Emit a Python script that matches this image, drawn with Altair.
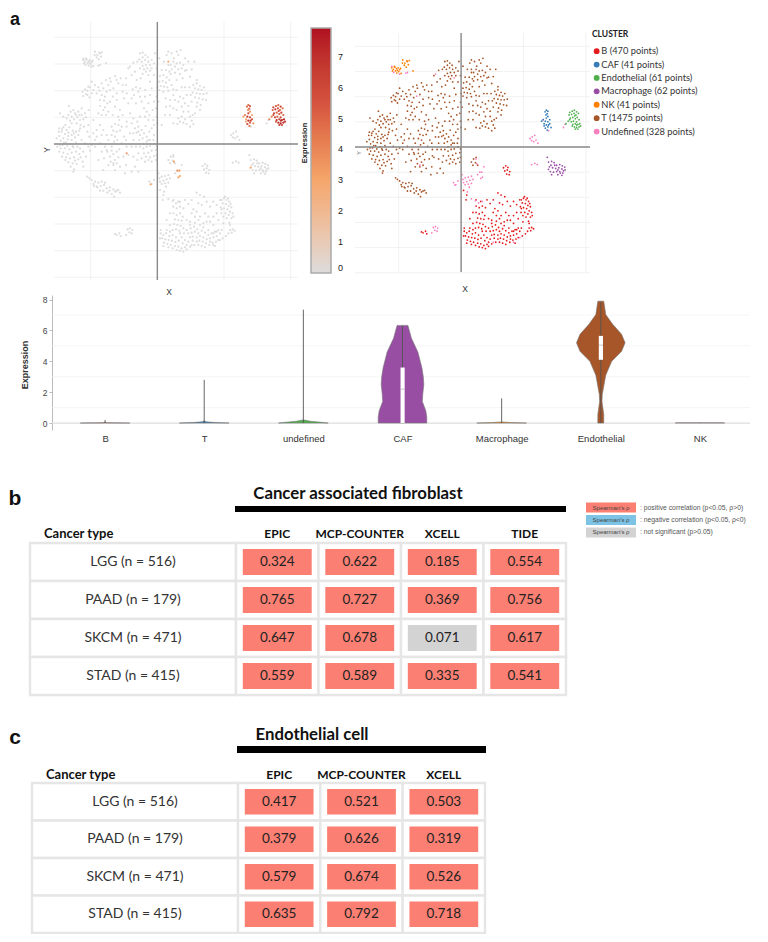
import altair as alt
import pandas as pd

# ---- t-SNE coordinates (shared by both maps) ----
T = [(420,160),(428,158),(436,165),(443,172),(428,172),(418,178),(412,185),(425,185),(435,180),(445,185),(455,180),(462,190),(450,195),(438,195),(428,198),(420,205),(432,208),(442,205),(455,205),(438,215),(428,222),(445,225),(422,235),(400,188),(385,205),(378,235),
(505,155),(515,160),(530,155),(542,150),(535,165),(500,165),(492,185),(505,195),(512,195),(520,185),(530,190),(540,188),(550,195),(525,200),(515,208),(535,208),(545,205),(555,212),(525,218),(540,222),(512,222),(560,210),(575,208),(583,185),(565,185),(548,235),(530,240),
(480,228),(490,225),(500,232),(478,245),(488,243),(498,248),(508,240),(482,258),(492,260),(502,262),(515,255),(478,270),(490,275),(505,272),(520,268),(530,270),(472,262),(470,290),(475,305),(497,295),(510,300),
(580,255),(590,250),(600,258),(585,265),(595,268),(605,270),(612,262),(578,278),(590,280),(600,282),(610,282),(585,292),(597,295),(608,298),(592,308),(602,315),(575,305),(560,285),(550,295),(540,290),(535,305),(555,310),(565,318),(545,320),(530,330),
(535,355),(545,350),(555,358),(540,365),(550,368),(560,372),(532,372),(570,350),(578,345),(585,340),(575,362),(580,372),(570,380),(510,345),(520,325),(498,320),
(248,275),(255,268),(262,272),(270,262),(275,280),(262,285),(250,288),(285,255),(295,262),(305,250),(318,240),(330,235),(345,228),(325,255),(340,265),(355,250),(310,265),(275,245),
(305,285),(315,290),(300,300),(312,302),(322,310),(300,318),(310,330),(305,345),(318,345),(295,340),(338,290),(350,300),(345,320),(360,330),(368,275),(380,280),(372,295),(385,310),(398,268),(408,262),(415,275),(402,285),(420,290),(390,340),
(432,325),(440,335),(448,345),(458,330),(468,325),(435,350),(445,360),(460,360),(470,350),(462,375),(472,370),(420,350),(400,355),(380,380),
(215,350),(225,340),(235,335),(245,345),(255,340),(222,358),(232,352),(240,360),(250,358),(230,370),(242,375),(215,370),(207,318),(180,340),(265,375),(280,360),
(178,385),(190,382),(200,390),(185,395),(195,402),(205,398),(215,405),(178,408),(190,415),(203,418),(215,420),(225,412),(235,405),(198,428),(212,432),(228,428),
(182,445),(195,445),(208,448),(220,442),(190,458),(203,462),(215,458),(228,455),(238,462),(210,475),(222,472),(235,478),(205,487),(218,490),(230,492),(222,508),(240,445),(250,500),(265,440),(275,435),(285,440),(270,452),(290,410),(280,400),(262,395),
(335,380),(345,372),(355,375),(365,380),(340,392),(350,395),(360,392),(335,405),(345,410),(352,420),(342,425),(310,390),(320,405),(372,410),
(405,385),(415,380),(425,390),(410,398),(420,405),(432,400),(440,410),(428,415),(445,420),(418,420),(395,370),(448,395),(462,405),
(430,445),(440,440),(450,438),(462,432),(432,460),(445,458),(455,452),(468,450),(438,470),(450,472),(462,468),(470,465),(455,485),(468,480),(440,425),(470,438),
(330,470),(340,462),(350,455),(358,448),(332,485),(345,480),(355,472),(340,495),(350,490),(325,495),(305,455),(315,440),(295,480),(380,440),(395,440),(405,500),(415,515),(412,480),(400,470),(378,495),(370,470),
(275,540),(285,545),(295,548),(305,545),(282,558),(292,562),(302,558),(312,555),(320,565),(330,562),(340,568),(350,572),(310,572),(322,578),(335,582),(342,590),(355,570),(262,530),
(505,480),(512,470),(520,465),(518,482),(525,490),(510,490)]
T_MORE = [(176,395),(186,388),(196,375),(208,382),(218,392),(228,395),(238,392),(170,415),(182,422),(192,428),(205,408),(222,400),(180,435),(172,440),(188,435),(202,438),(218,438),(232,440),(186,470),(198,472),(178,455),(196,480),(212,500),(225,482),(242,472),(250,455),(258,470),(248,485),(220,515),(205,345),(212,335),(220,330),(200,355),(210,362),(238,345),(228,345),(258,352),(266,330),(190,350),(245,325),(240,385),(252,380),(268,410),(285,420),(300,430),(255,430),(245,420),
(265,260),(258,282),(268,292),(280,270),(290,280),(298,272),(320,275),(332,245),(350,240),(362,235),(368,255),(378,255),(350,280),(330,305),(315,322),(325,335),(338,345),(355,350),(368,345),(380,365),(358,360),(300,375),(290,390),(305,405),(325,420),(320,450),(335,440),(312,475),(322,455),(335,452),(365,430),(378,420),(390,400),(400,420),(408,440),(420,440),(415,460),(425,475),(385,465),(395,515),(360,500),(345,510),(310,510),(375,520),
(420,265),(435,270),(450,285),(462,305),(445,310),(425,305),(408,310),(395,295),(435,290),(455,265),(450,245),(462,225),(405,215),(395,225),(410,240),(465,160),(470,205),(478,175),(485,210),(498,210),(508,215),(522,175),(555,175),(570,230),(590,240),(620,280),(618,300),(568,262),(555,262),(545,262),(572,285),(520,285),(525,300),(510,318),(495,345),(485,375),(520,370),(550,335),(600,330),(590,320),(565,335),
(450,420),(460,420),(430,432),(445,480),(435,485),(437,378),(415,395),(455,385),(400,400),(412,365),(290,560),(300,572),(268,535),(280,552),(315,548),(328,572),(345,575),(360,578)]
B = [(672,595),(680,600),(688,605),(668,610),(678,612),(686,618),(694,622),(672,625),(682,628),(690,635),(698,640),(676,640),(686,645),(694,655),(680,655),(670,650),(688,668),
(690,690),(698,688),(704,692),(695,698),(685,700),(678,708),
(530,645),(540,640),(548,650),(525,658),(535,660),(545,662),(522,672),(532,675),(542,678),(528,688),(538,692),(550,685),
(572,685),(582,680),(592,688),(575,698),(585,695),(595,700),(605,692),(615,698),(625,705),(635,700),(645,695),(655,690),(578,710),(590,712),(600,708),(610,712),(620,718),(630,715),(640,712),(650,708),(660,700),(598,722),(608,725),(618,730),(628,735),(638,728),(648,725),(590,725),(578,722),
(482,700),(490,705),(498,700),(508,708),(518,705),(528,712),(486,715),(496,718),(506,720),(516,722),(526,726),(536,722),(492,728),(502,732),(512,735),
(525,738),(535,740),(545,745),(555,742),(530,750),(540,752),(550,755),(560,748),
(520,600),(535,605),(555,600),(565,612),(590,578),(600,585),(612,590),(580,628),(575,640),(590,635),(600,650),(615,640),(630,620),(640,605),(650,615),(665,628),(640,650),(655,660),(630,665),(610,670),(560,660),(570,665),(550,625),(510,640),(500,660),(520,620),(490,585),(480,570),(488,600),
(608,498),(615,492),(622,497),(612,508),(620,505),(628,510),(618,518),(626,520),
(350,705),(358,700),(345,702),(362,708)]
B_MORE = [(675,590),(665,600),(684,595),(692,612),(662,622),(700,650),(664,640),(690,675),(560,690),(552,700),(565,700),(570,712),(565,725),(555,720),(545,712),(548,730),(560,735),(570,740),(583,735),(595,735),(605,738),(615,742),(630,725),(640,700),(650,695),(665,690),(668,715),(655,720),(645,738),(625,690),(610,682),(600,675),(585,668),(595,660),(625,650),(650,640),(660,600),(620,605),(605,615),(595,610),(575,600),(540,620),(530,625),(520,640),(510,675),(500,690),(480,715),(490,738),(505,742),(518,745),(482,690),(510,695),(518,690),(540,700),(570,675),(585,650),(620,665),(640,675),(670,670)]
UNDEFINED = [(478,535),(485,530),(495,528),(505,525),(480,545),(490,542),(500,538),(510,535),(485,552),(495,550),(505,548),(475,520),(498,560),(448,545),(455,552),(462,540),
(520,470),(545,495),(525,520),(383,688),(390,685),(397,690),(388,697),(395,700),(378,705),
(693,405),(700,400),(708,395),(712,410),(705,415),(718,420),(698,412),(698,488),(708,484),(716,488),
(505,597),(518,603),(528,610),(540,605),(492,575),(640,735),(660,720),(575,735),
(805,360),(800,370),(735,345),(752,380),(300,195),(390,200),(450,212),(330,270),(340,490),(250,176),(256,195),(275,200),(295,197)]
NK = [(250,180),(255,185),(260,178),(265,183),(270,180),(262,190),(268,188),(275,186),(258,176),(272,192),(278,182),(280,198),(266,197),(252,190),(285,155),(292,165),(298,158),(303,170),(290,172),(284,165),(300,160),(306,157),(296,178),(318,190)]
MACROPHAGE = [(752,480),(762,478),(770,482),(778,490),(788,488),(796,492),(804,496),(755,495),(765,498),(775,500),(785,498),(795,502),(805,505),(758,510),(768,512),(778,510),(788,510),(798,515),(762,520),(782,520),(795,522),(800,508),(772,490),(748,465),(760,490),(782,505),(790,515)]
# (x, y, expression)
CAF = [(745,315,5),(750,318,5.5),(741,320,4.5),(748,326,5),(744,330,4),(750,335,3.5),(745,340,6),(735,345,4),(742,350,6.5),(750,352,6),(756,358,5.5),(738,358,3),(745,362,7),(750,368,5),(742,372,6),(748,378,4.5),(760,370,3.5),(730,350,3),(752,362,6),(738,365,2.5),(756,345,3)]
ENDOTHELIAL = [(820,322,6),(828,318,5.5),(835,315,5),(842,320,6),(818,330,5),(826,328,6.5),(834,325,5.5),(840,330,5),(848,325,4.5),(822,340,6),(830,338,5),(838,342,5.5),(844,338,6),(815,350,4),(825,352,6),(832,350,5),(842,352,6),(850,345,5),(808,358,4),(830,360,7),(838,358,6.5),(846,360,7),(852,358,7.5),(835,368,7),(842,370,7.5),(850,368,7),(838,375,6.5),(846,375,6),(828,365,5),(855,365,6.5),(820,345,5.5),(836,333,6),(843,362,7)]
# points outside the hot clusters that also express the gene
EXPRESSED_T = [(380,460,3.2),(505,185,2.5)]
EXPRESSED_UNDEF = [(522,485,3),(532,512,3.6),(538,512,3.4),(540,528,3),(535,532,3),(452,553,3)]
EXPRESSED_MACRO = [(752,503,3)]

CLUSTER_LABELS = ["B (470 points)", "CAF (41 points)", "Endothelial (61 points)", "Macrophage (62 points)", "NK (41 points)", "T (1475 points)", "Undefined (328 points)"]
CLUSTER_COLORS = ["#e41a1c", "#377eb8", "#4daf4a", "#984ea3", "#ff7f00", "#a65628", "#f781bf"]
X_GRID = [272, 472, 672, 872]
Y_GRID = [112, 192, 272, 352, 432, 512, 592, 672, 752, 832]

# ---- violin panel ----
VIOLIN_CATS = ["B", "T", "undefined", "CAF", "Macrophage", "Endothelial", "NK"]
VIOLIN_COLORS = ["#e41a1c", "#377eb8", "#4daf4a", "#984ea3", "#ff7f00", "#a65628", "#f781bf"]
VIOLIN_PROFILES = {
    "B": [(0,.25),(.015,.02),(.05,.003)],
    "T": [(0,.25),(.03,.12),(.08,.02),(.14,.004)],
    "undefined": [(0,.25),(.05,.18),(.12,.07),(.2,.008)],
    "CAF": [(0,.245),(.4,.245),(.8,.235),(1.4,.2),(1.9,.205),(2.5,.215),(3.0,.21),(3.6,.195),(4.6,.155),(5.5,.09),(6.33,.055)],
    "Macrophage": [(0,.25),(.03,.1),(.07,.01)],
    "Endothelial": [(0,.03),(.55,.03),(1.4,.012),(1.85,.015),(3.1,.05),(4,.11),(4.65,.21),(5.2,.245),(5.75,.21),(6.4,.12),(7.03,.05),(7.9,.03)],
    "NK": [(0,.25),(.02,.24)],
}
WHISKER_TOP = [0.2, 2.8, 7.35, 6.3, 1.6, 7.85, 0.02]
BOX_CATS = [3, 5]
BOX_LOW = [0, 4.1]
BOX_HIGH = [3.6, 5.65]
BOX_MEDIAN = [2.2, 5.05]

# ---- tables ----
ROWS = ["LGG (n = 516)", "PAAD (n = 179)", "SKCM (n = 471)", "STAD (n = 415)"]
B_METHODS = ["EPIC", "MCP-COUNTER", "XCELL", "TIDE"]
B_VALUES = [["0.324","0.622","0.185","0.554"],["0.765","0.727","0.369","0.756"],["0.647","0.678","0.071","0.617"],["0.559","0.589","0.335","0.541"]]
C_METHODS = ["EPIC", "MCP-COUNTER", "XCELL"]
C_VALUES = [["0.417","0.521","0.503"],["0.379","0.626","0.319"],["0.579","0.674","0.526"],["0.635","0.792","0.718"]]
LEGEND_KEYS = ["pos", "neg", "ns"]
LEGEND_COLORS = ["#fb7f72", "#7cc3e6", "#d3d3d3"]
LEGEND_TEXT = [": positive correlation (p<0.05, ρ>0)", ": negative correlation (p<0.05, ρ<0)", ": not significant (p>0.05)"]

W, H = 752, 926
FONT = "Lato"
SANS = "Liberation Sans"
def X(p): return p - 8
def Y(p): return p - 8

def note(t, px, py, size=12, weight="normal", font=FONT, color="#222", align="center", angle=0):
    return alt.Chart(pd.DataFrame({"t": [t]})).mark_text(fontSize=size, fontWeight=weight, font=font, color=color,
        align=align, baseline="middle", angle=angle).encode(x=alt.value(X(px)), y=alt.value(Y(py)), text="t:N")

def box(x0, x1, y0, y1, color="black"):
    return alt.Chart(pd.DataFrame({"a": [0]})).mark_rect(color=color).encode(
        x=alt.value(X(x0)), x2=alt.value(X(x1)), y=alt.value(Y(y0)), y2=alt.value(Y(y1)))

layers = []

# ---- assemble t-SNE table ----
recs = []
for c, pts in [(5, T + T_MORE), (0, B + B_MORE), (6, UNDEFINED), (4, NK), (3, MACROPHAGE)]:
    recs += [dict(x=p[0], y=p[1], label=CLUSTER_LABELS[c], expr=0.0) for p in pts]
for c, pts in [(1, CAF), (2, ENDOTHELIAL), (5, EXPRESSED_T), (6, EXPRESSED_UNDEF), (3, EXPRESSED_MACRO)]:
    recs += [dict(x=p[0], y=p[1], label=CLUSTER_LABELS[c], expr=float(p[2])) for p in pts]
df = pd.DataFrame(recs)

def tsne_panel(xdom, ydom, xr, yr, size, is_expr):
    xs = alt.Scale(domain=xdom, range=[X(xr[0]), X(xr[1])], nice=False, zero=False)
    ys = alt.Scale(domain=ydom, range=[Y(yr[0]), Y(yr[1])], nice=False, zero=False)
    out = []
    gx = pd.DataFrame({"v": X_GRID})
    gy = pd.DataFrame({"v": Y_GRID})
    out.append(alt.Chart(gx).mark_rule(color="#eeeeee", strokeWidth=0.8).encode(
        x=alt.X("v:Q", scale=xs, axis=None), y=alt.value(Y(yr[0])), y2=alt.value(Y(yr[1]))))
    out.append(alt.Chart(gy).mark_rule(color="#eeeeee", strokeWidth=0.8).encode(
        y=alt.Y("v:Q", scale=ys, axis=None), x=alt.value(X(xr[0])), x2=alt.value(X(xr[1]))))
    if is_expr:
        color = alt.Color("expr:Q", scale=alt.Scale(domain=[0, 3, 5.5, 7.93], range=["#dcdcdc", "#f5a66b", "#d5533f", "#b01021"]),
            legend=alt.Legend(orient="none", legendX=X(311), legendY=Y(28), title=None, gradientLength=245, gradientThickness=20,
                gradientStrokeColor="#aaaaaa", gradientStrokeWidth=1.5, values=[0,1,2,3,4,5,6,7],
                labelFontSize=9, labelFont=SANS, labelColor="#222", labelOverlap=False, labelOffset=7))
        d = df.sort_values("expr")
    else:
        color = alt.Color("label:N", scale=alt.Scale(domain=CLUSTER_LABELS, range=CLUSTER_COLORS),
            legend=alt.Legend(orient="none", legendX=X(592), legendY=Y(30), title="CLUSTER", titleFont=FONT, titleFontSize=8.5,
                titleFontWeight="bold", titleColor="#222", labelFont=FONT, labelFontSize=9.3, labelColor="#333", symbolSize=34,
                symbolType="circle", rowPadding=3.4, labelLimit=160, titlePadding=8, labelOffset=0))
        d = df
    out.append(alt.Chart(d).mark_circle(size=size, opacity=1).encode(
        x=alt.X("x:Q", scale=xs, axis=None), y=alt.Y("y:Q", scale=ys, axis=None), color=color))
    zc = "#8a8a8a"
    out.append(alt.Chart(pd.DataFrame({"v": [472]})).mark_rule(color=zc, strokeWidth=1.4).encode(
        x=alt.X("v:Q", scale=xs, axis=None), y=alt.value(Y(yr[0])), y2=alt.value(Y(yr[1]))))
    out.append(alt.Chart(pd.DataFrame({"v": [432]})).mark_rule(color=zc, strokeWidth=1.4).encode(
        y=alt.Y("v:Q", scale=ys, axis=None), x=alt.value(X(xr[0])), x2=alt.value(X(xr[1]))))
    return out

layers += tsne_panel([162, 894], [66, 840], (54, 298), (22, 280), 5, True)
layers += tsne_panel([132, 885], [69.4, 829.6], (355, 590), (33, 272), 3.2, False)

layers += [
    note("a", 15, 19.5, size=18, weight="bold", font=SANS, color="#111"),
    note("X", 169, 292, size=8.5, font=SANS, color="#333"),
    note("Y", 47, 150, size=8.5, font=SANS, color="#333", angle=270),
    note("X", 465, 289, size=8.5, font=SANS, color="#333"),
    note("Y", 359, 153, size=5.5, font=SANS, color="#666", angle=270),
    note("Expression", 305, 143, size=7.5, weight="bold", font=SANS, color="#222", angle=270),
]

# ---- violin ----
vx = alt.Scale(domain=[0, 7], range=[X(55.5), X(749.5)], nice=False, zero=False)
vy = alt.Scale(domain=[-0.45, 8.3], range=[Y(430), Y(295)], nice=False, zero=False)

layers.append(alt.Chart(pd.DataFrame({"v": [1, 3, 5, 7]})).mark_rule(color="#f2f2f2", strokeWidth=0.8).encode(
    y=alt.Y("v:Q", scale=vy, axis=None), x=alt.value(X(52)), x2=alt.value(X(750))))
layers.append(alt.Chart(pd.DataFrame({"v": [0]})).mark_rule(color="#dddddd", strokeWidth=1.3).encode(
    y=alt.Y("v:Q", scale=vy, axis=None), x=alt.value(X(52)), x2=alt.value(X(750))))

vrec = []
for i, cat in enumerate(VIOLIN_CATS):
    for yv, hw in VIOLIN_PROFILES[cat]:
        vrec.append(dict(cat=cat, y=yv, lo=i + .5 - hw, hi=i + .5 + hw))
vdf = pd.DataFrame(vrec)
layers.append(alt.Chart(vdf).mark_area(orient="horizontal", stroke="#777777", strokeWidth=0.6, opacity=1).encode(
    x=alt.X("lo:Q", scale=vx, axis=None), x2="hi:Q",
    y=alt.Y("y:Q", scale=vy, axis=alt.Axis(orient="left", offset=-X(52), title=None, values=[0, 2, 4, 6, 8], grid=False,
        domainColor="#bbbbbb", tickColor="#bbbbbb", tickSize=3, labelFont=SANS, labelFontSize=8.5, labelColor="#444", labelPadding=2)),
    color=alt.Color("cat:N", scale=alt.Scale(domain=VIOLIN_CATS, range=VIOLIN_COLORS), legend=None),
    detail="cat:N"))

wdf = pd.DataFrame({"c": [i + .5 for i in range(7)], "top": WHISKER_TOP, "low": [0.0] * 7})
layers.append(alt.Chart(wdf).mark_rule(color="#555555", strokeWidth=0.9).encode(
    x=alt.X("c:Q", scale=vx, axis=None), y=alt.Y("low:Q", scale=vy, axis=None), y2="top:Q"))
bdf = pd.DataFrame({"l": [i + .48 for i in BOX_CATS], "r": [i + .522 for i in BOX_CATS], "low": BOX_LOW, "high": BOX_HIGH, "med": BOX_MEDIAN})
layers.append(alt.Chart(bdf).mark_rect(color="white").encode(
    x=alt.X("l:Q", scale=vx, axis=None), x2="r:Q", y=alt.Y("low:Q", scale=vy, axis=None), y2="high:Q"))
layers.append(alt.Chart(bdf).mark_rule(color="#aaaaaa", strokeWidth=0.7).encode(
    x=alt.X("l:Q", scale=vx, axis=None), x2="r:Q", y=alt.Y("med:Q", scale=vy, axis=None)))
layers.append(alt.Chart(pd.DataFrame({"cat": VIOLIN_CATS})).mark_point(opacity=0).encode(
    x=alt.X("cat:N", sort=VIOLIN_CATS, scale=alt.Scale(domain=VIOLIN_CATS, range=[X(55.5), X(749.5)]),
        axis=alt.Axis(orient="bottom", offset=-(H - Y(430)), title=None, labelAngle=0, domain=False, ticks=False,
            labelFont=SANS, labelFontSize=9.5, labelColor="#333", labelPadding=3)),
    y=alt.value(Y(425))))
layers.append(note("Expression", 25, 365, size=9, weight="bold", font=SANS, color="#333", angle=270))

# ---- tables ----
def table(methods, values, frame_x, cols_x, rows_y, head_y, title, title_x, title_y, bar, letter, letter_xy, ct_x):
    rows_s = alt.Scale(domain=ROWS, range=[Y(rows_y[0]), Y(rows_y[1])], paddingInner=0, paddingOuter=0)
    cols_s = alt.Scale(domain=methods, range=[X(cols_x[0]), X(cols_x[1])], paddingInner=0, paddingOuter=0)
    first_s = alt.Scale(domain=["Cancer type"], range=[X(frame_x[0]), X(frame_x[1])], paddingInner=0, paddingOuter=0)
    cell_rows = alt.Scale(domain=ROWS, range=[Y(rows_y[0]), Y(rows_y[1])], paddingInner=0.32, paddingOuter=0.16)
    cell_cols = alt.Scale(domain=methods, range=[X(cols_x[0]), X(cols_x[1])], paddingInner=0.165, paddingOuter=0.0825)
    rec = []
    for r, row in enumerate(ROWS):
        for m, meth in enumerate(methods):
            rec.append(dict(row=row, method=meth, value=values[r][m], sig="ns" if float(values[r][m]) < 0.1 else "pos", first="Cancer type"))
    d = pd.DataFrame(rec)
    frame = dict(fill="white", stroke="#e6e6e6", strokeWidth=2.4)
    rows_first = pd.DataFrame({"row": ROWS, "first": ["Cancer type"] * 4})
    out = [
        alt.Chart(rows_first).mark_rect(**frame).encode(
            x=alt.X("first:N", scale=first_s, axis=None), y=alt.Y("row:N", sort=ROWS, scale=rows_s, axis=None)),
        alt.Chart(d).mark_rect(**frame).encode(
            x=alt.X("method:N", sort=methods, scale=cols_s, axis=None), y=alt.Y("row:N", sort=ROWS, scale=rows_s, axis=None)),
        alt.Chart(d).mark_rect().encode(
            x=alt.X("method:N", sort=methods, scale=cell_cols, axis=None), y=alt.Y("row:N", sort=ROWS, scale=cell_rows, axis=None),
            color=alt.Color("sig:N", scale=alt.Scale(domain=LEGEND_KEYS, range=LEGEND_COLORS), legend=None)),
        alt.Chart(d).mark_text(font=FONT, fontSize=13.5, color="#222").encode(
            x=alt.X("method:N", sort=methods, scale=cell_cols, axis=None), y=alt.Y("row:N", sort=ROWS, scale=cell_rows, axis=None),
            text="value:N"),
        alt.Chart(rows_first).mark_text(font=FONT, fontSize=14, color="#333").encode(
            x=alt.X("first:N", scale=first_s, axis=None), y=alt.Y("row:N", sort=ROWS, scale=rows_s, axis=None), text="row:N"),
        alt.Chart(pd.DataFrame({"method": methods})).mark_text(font=FONT, fontSize=12, fontWeight="bold", color="#111").encode(
            x=alt.X("method:N", sort=methods, scale=cols_s, axis=None), y=alt.value(Y(head_y)), text="method:N"),
        note("Cancer type", ct_x, head_y, size=13, weight="bold", color="#111", align="left"),
        note(title, title_x, title_y, size=16.8, weight="bold", color="#111"),
        box(bar[0], bar[1], bar[2], bar[3]),
        note(letter, letter_xy[0], letter_xy[1], size=21, weight="bold", font=SANS, color="#111"),
    ]
    return out

layers += table(B_METHODS, B_VALUES, (30, 236), (236, 566), (543, 695), 534, "Cancer associated  fibroblast", 358, 494,
                (235, 566, 506, 512), "b", (15, 499), 44)
layers += table(C_METHODS, C_VALUES, (32, 238), (238, 485), (783, 933), 775, "Endothelial cell", 312, 735,
                (237, 486, 746, 753), "c", (15, 738), 46)

# ---- Spearman key ----
key_y = alt.Scale(domain=LEGEND_KEYS, range=[Y(502), Y(538)], paddingInner=0.2, paddingOuter=0.05)
key_x = alt.Scale(domain=["s"], range=[X(586), X(636)], paddingInner=0, paddingOuter=0)
key_df = pd.DataFrame({"k": LEGEND_KEYS, "s": ["s"] * 3, "t": LEGEND_TEXT, "p": ["Spearman's ρ"] * 3})
layers.append(alt.Chart(key_df).mark_rect().encode(
    x=alt.X("s:N", scale=key_x, axis=None), y=alt.Y("k:N", sort=LEGEND_KEYS, scale=key_y, axis=None),
    color=alt.Color("k:N", scale=alt.Scale(domain=LEGEND_KEYS, range=LEGEND_COLORS), legend=None)))
layers.append(alt.Chart(key_df).mark_text(font=SANS, fontSize=6, color="#444").encode(
    x=alt.X("s:N", scale=key_x, axis=None), y=alt.Y("k:N", sort=LEGEND_KEYS, scale=key_y, axis=None), text="p:N"))
layers.append(alt.Chart(key_df).mark_text(font=SANS, fontSize=6.8, color="#555", align="left").encode(
    x=alt.value(X(640)), y=alt.Y("k:N", sort=LEGEND_KEYS, scale=key_y, axis=None), text="t:N"))

chart = alt.layer(*layers).resolve_scale(x="independent", y="independent", color="independent").properties(
    width=W, height=H, padding=0, autosize=alt.AutoSizeParams(type="none")
).configure_view(stroke=None)

chart.save("out.html", embed_options={"renderer": "svg", "actions": False})
